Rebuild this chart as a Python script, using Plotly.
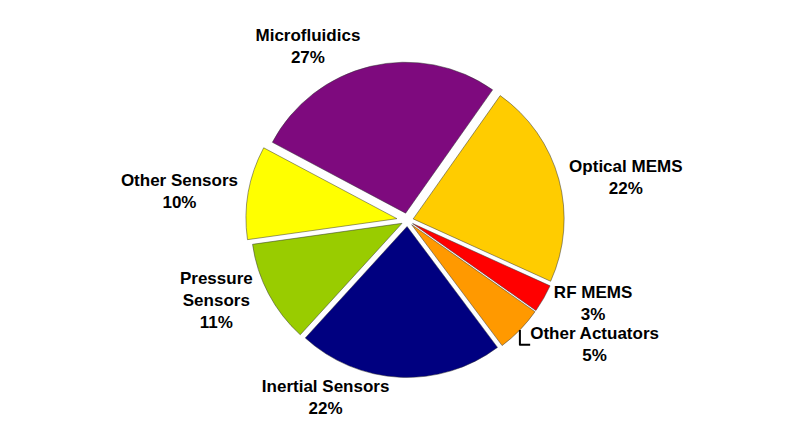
import plotly.graph_objects as go

categories = ["Microfluidics", "Optical MEMS", "RF MEMS", "Other Actuators",
              "Inertial Sensors", "Pressure Sensors", "Other Sensors"]
display_labels = ["Microfluidics", "Optical MEMS", "RF MEMS", "Other Actuators",
                  "Inertial Sensors", "Pressure<br>Sensors", "Other Sensors"]
shares = [27, 22, 3, 5, 22, 11, 10]
colors = ["#7E0A7E", "#FFCC00", "#FF0000", "#FF9900", "#000080", "#99CC00", "#FFFF00"]
pulls = [0.05, 0.04, 0.04, 0.04, 0.04, 0.04, 0.07]

fig = go.Figure(go.Pie(
    labels=categories,
    values=shares,
    text=display_labels,
    texttemplate="%{text}<br>%{value}%",
    textposition="outside",
    sort=False,
    direction="clockwise",
    rotation=298,
    pull=pulls,
    domain=dict(x=[0.03, 1.0], y=[0.0, 1.0]),
    marker=dict(colors=colors, line=dict(color="#333333", width=0.5)),
    textfont=dict(family="Liberation Sans, Arial", size=17, color="black", weight="bold"),
    showlegend=False,
    hoverinfo="label+percent",
))
fig.update_layout(
    width=803, height=445,
    margin=dict(l=15, r=15, t=15, b=15),
    paper_bgcolor="white", plot_bgcolor="white",
)
fig.write_html("out.html")
